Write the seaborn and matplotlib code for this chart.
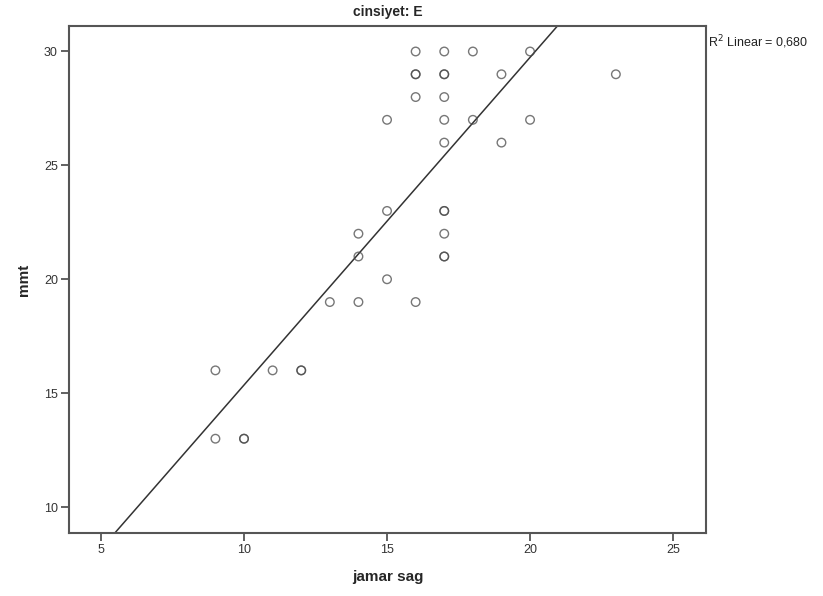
import matplotlib
matplotlib.use("Agg")
import matplotlib.pyplot as plt
import seaborn as sns
import pandas as pd
import numpy as np

# data (duplicates repeated)
jamar_sag = [9, 9, 10, 10, 11, 12, 12, 13, 14, 14, 14, 15, 15, 15,
             16, 16, 16, 16, 16,
             17, 17, 17, 17, 17, 17, 17, 17, 17, 17, 17,
             18, 18, 19, 19, 20, 20, 23]
mmt = [16, 13, 13, 13, 16, 16, 16, 19, 22, 21, 19, 27, 23, 20,
       30, 29, 29, 28, 19,
       30, 29, 29, 28, 27, 26, 23, 23, 22, 21, 21,
       30, 27, 29, 26, 30, 27, 29]
title = "cinsiyet: E"
r2_label = "R$^2$ Linear = 0,680"
x_ticks = [5, 10, 15, 20, 25]
y_ticks = [10, 15, 20, 25, 30]

df = pd.DataFrame({"jamar sag": jamar_sag, "mmt": mmt})

sns.set_style("white")
plt.rcParams['font.family'] = ['Liberation Sans', 'DejaVu Sans']

fig = plt.figure(figsize=(8.23, 5.96), dpi=100)
ax = fig.add_axes([0.0838, 0.1057, 0.774, 0.8507])
ax.set_xlim(3.88, 26.15)
ax.set_ylim(8.86, 31.12)

sns.scatterplot(data=df, x="jamar sag", y="mmt", ax=ax, s=38,
                facecolor="none", edgecolor="#4a4a4a", linewidth=1.0,
                alpha=0.75, legend=False, zorder=3)
sns.regplot(data=df, x="jamar sag", y="mmt", ax=ax, scatter=False, ci=None,
            truncate=False, line_kws=dict(color="#333333", lw=1.1))

ax.set_xlim(3.88, 26.15)
ax.set_ylim(8.86, 31.12)
ax.set_xticks(x_ticks)
ax.set_yticks(y_ticks)
ax.tick_params(axis="both", direction="out", length=6, width=1.3,
               color="#555555", labelsize=9, labelcolor="#333333", pad=2,
               bottom=True, left=True)
for sp in ax.spines.values():
    sp.set_color("#555555")
    sp.set_linewidth(1.5)

ax.set_xlabel("jamar sag", fontsize=11, fontweight="bold", labelpad=10)
ax.set_ylabel("mmt", fontsize=11, fontweight="bold", labelpad=9)
ax.set_title(title, fontsize=10, fontweight="bold", pad=7)
ax.text(1.003, 0.968, r2_label, transform=ax.transAxes, fontsize=9,
        ha="left", va="center", color="#222222")

fig.savefig("out.png", dpi=100)
